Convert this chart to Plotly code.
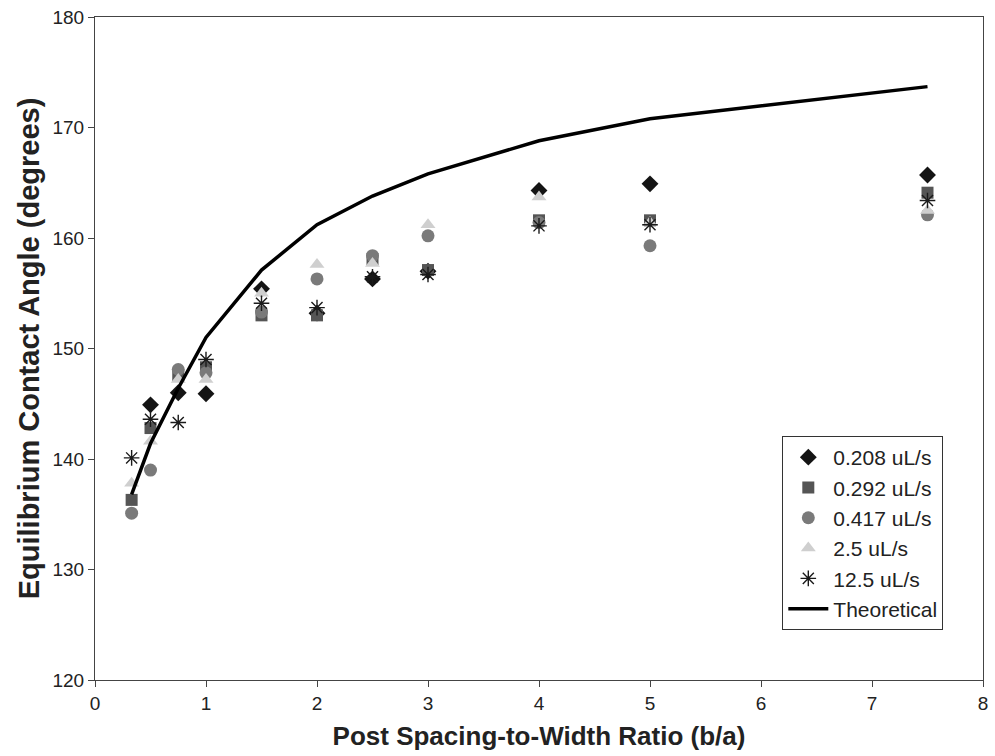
import plotly.graph_objects as go

# Post spacing-to-width ratios (b/a)
ratio = [0.33, 0.5, 0.75, 1, 1.5, 2, 2.5, 3, 4, 5, 7.5]

# Measured equilibrium contact angles (degrees) per flow rate
angle_0208 = [None, 144.9, 146.0, 145.9, 155.4, 153.2, 156.3, 157.0, 164.3, 164.9, 165.7]
angle_0292 = [136.3, 142.8, 147.6, 148.3, 153.0, 153.0, 158.1, 157.1, 161.6, 161.6, 164.1]
angle_0417 = [135.1, 139.0, 148.1, 147.8, 153.3, 156.3, 158.4, 160.2, 161.4, 159.3, 162.1]
angle_25 = [137.8, 141.6, 147.2, 147.2, 155.0, 157.6, 157.7, 161.2, 163.7, 161.4, 162.5]
angle_125 = [140.1, 143.6, 143.3, 149.0, 154.1, 153.7, 156.5, 156.7, 161.1, 161.2, 163.4]

# Theoretical prediction
theory = [136.8, 141.4, 146.4, 151.0, 157.1, 161.2, 163.8, 165.8, 168.8, 170.8, 173.7]

fig = go.Figure()

series = [
    ("0.208 uL/s", angle_0208, "diamond", "#141414", 13, None),
    ("0.292 uL/s", angle_0292, "square", "#555555", 12, None),
    ("0.417 uL/s", angle_0417, "circle", "#7a7a7a", 13, None),
    ("2.5 uL/s", angle_25, "triangle-up", "#cfcfcf", 13, None),
    ("12.5 uL/s", angle_125, "asterisk-open", "#1a1a1a", 13, 1.4),
]

for name, vals, sym, col, size, lw in series:
    marker = dict(symbol=sym, color=col, size=size)
    if lw:
        marker["line"] = dict(color=col, width=lw)
    else:
        marker["line"] = dict(width=0)
    fig.add_trace(go.Scatter(x=ratio, y=vals, mode="markers", name=name, marker=marker))

fig.add_trace(go.Scatter(
    x=ratio, y=theory, mode="lines", name="Theoretical",
    line=dict(color="black", width=3.5),
))

font_family = "Liberation Sans, Arial, sans-serif"

fig.update_layout(
    width=995, height=756,
    margin=dict(l=95, r=7, t=16, b=76),
    paper_bgcolor="white",
    plot_bgcolor="white",
    font=dict(family=font_family, size=19, color="#222"),
    showlegend=True,
    legend=dict(
        x=0.774, y=0.368, xanchor="left", yanchor="top",
        bgcolor="white", bordercolor="#333", borderwidth=1,
        font=dict(size=21, color="#222"),
        tracegroupgap=0, itemwidth=40,
    ),
    xaxis=dict(
        range=[0, 8], dtick=1, showgrid=False, zeroline=False,
        showline=True, linecolor="#444", linewidth=1, mirror=True,
        ticks="outside", ticklen=6, tickcolor="#444",
        tickfont=dict(size=19, color="#222"),
        title=dict(text="<b>Post Spacing-to-Width Ratio (b/a)</b>",
                   font=dict(size=26, color="#222"), standoff=14),
    ),
    yaxis=dict(
        range=[120, 180], dtick=10, showgrid=False, zeroline=False,
        showline=True, linecolor="#444", linewidth=1, mirror=True,
        ticks="outside", ticklen=6, tickcolor="#444",
        tickfont=dict(size=19, color="#222"),
        title=dict(text="<b>Equilibrium Contact Angle (degrees)</b>",
                   font=dict(size=29, color="#222"), standoff=4),
    ),
)

fig.write_html("out.html")
